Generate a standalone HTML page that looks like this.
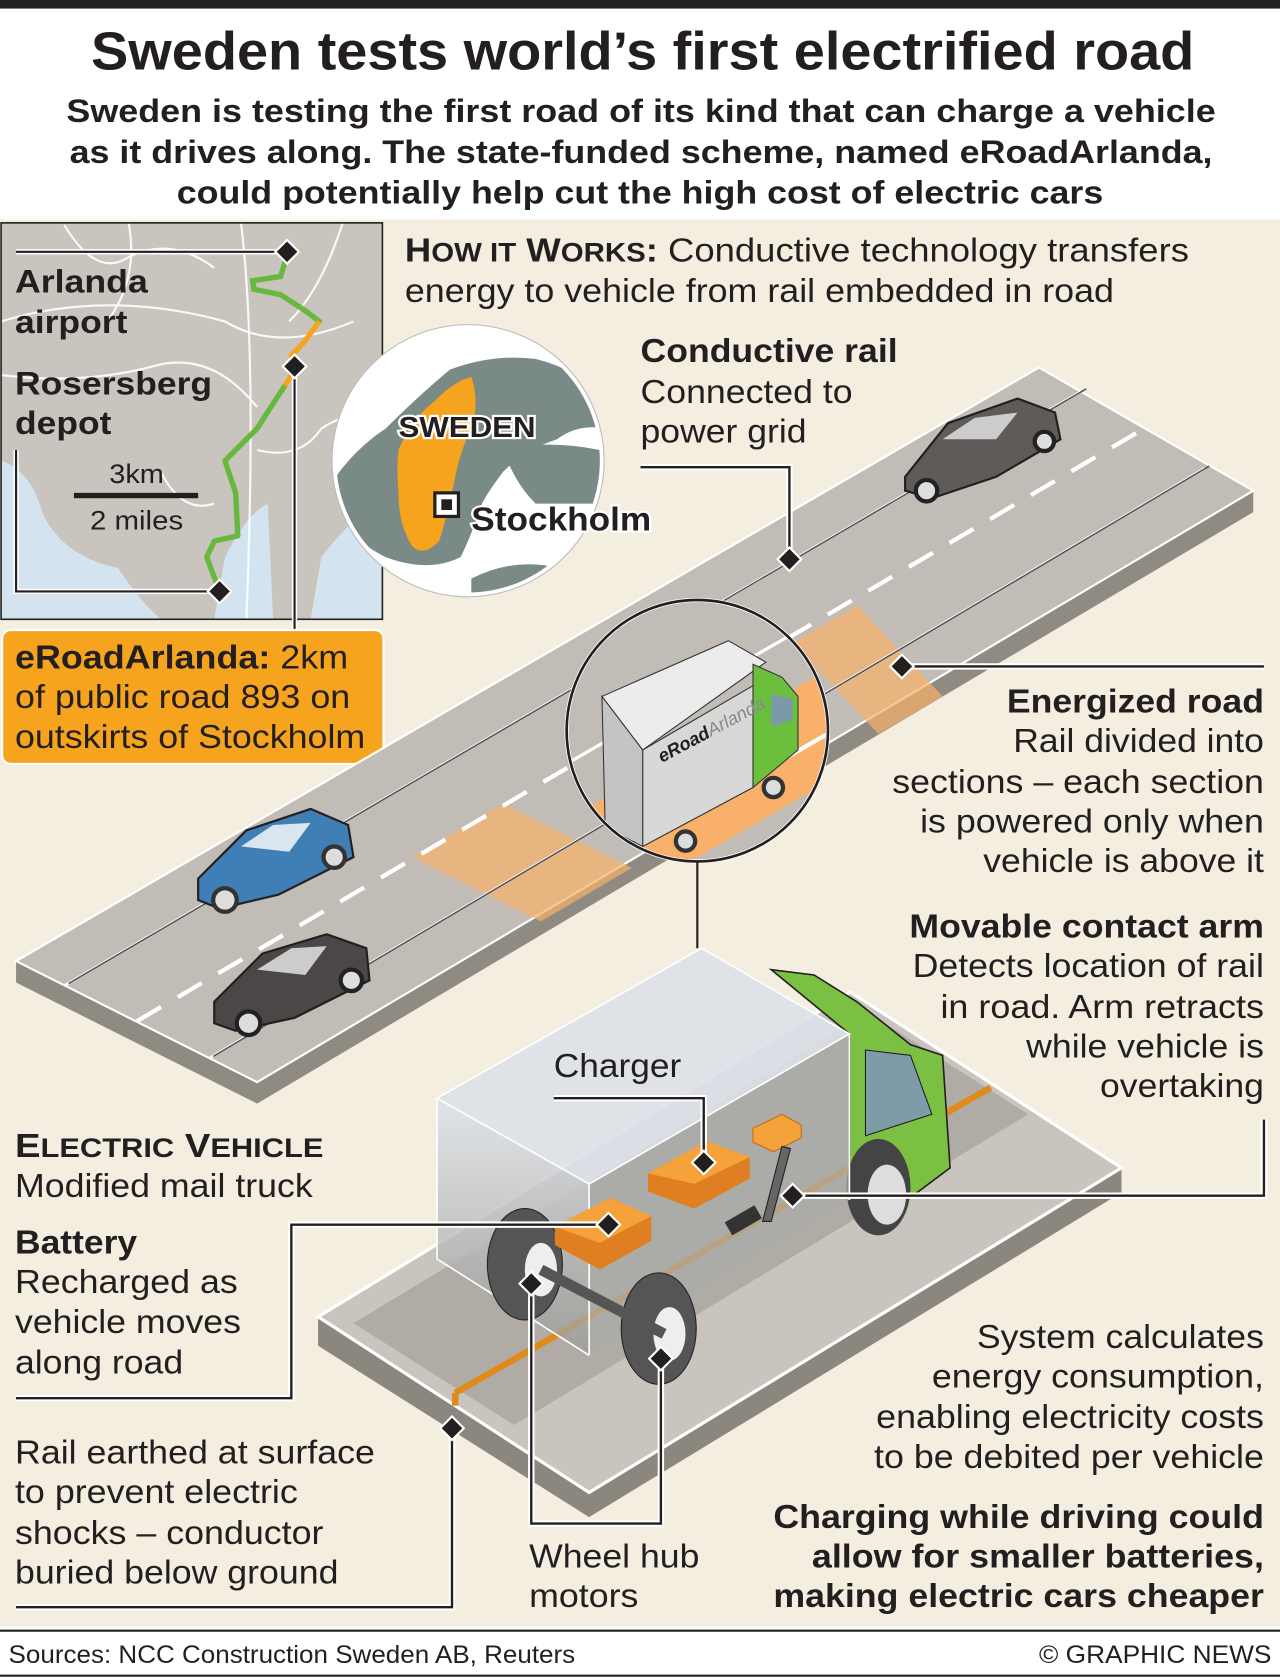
<!DOCTYPE html>
<html><head><meta charset="utf-8"><style>
html,body{margin:0;padding:0;background:#fff;}
svg{display:block;}
text{font-family:"Liberation Sans",Arial,sans-serif;fill:#231f20;}
.b{font-weight:bold;}
</style></head><body>
<svg width="1280" height="1680" viewBox="0 0 1195 1568" preserveAspectRatio="none" xmlns="http://www.w3.org/2000/svg">
<defs>
<clipPath id="lens"><circle cx="651" cy="682" r="120"/></clipPath>
<clipPath id="glob"><circle cx="437" cy="430" r="123"/></clipPath>
<clipPath id="mapc"><rect x="1" y="208" width="356" height="370"/></clipPath>
<linearGradient id="box" x1="0" y1="0" x2="0" y2="1"><stop offset="0" stop-color="#dfe3ea" stop-opacity="0.9"/><stop offset="1" stop-color="#9c9c98" stop-opacity="0.75"/></linearGradient>
</defs>
<rect width="1195" height="1568" fill="#fff"/>
<rect width="1195" height="8" fill="#231f20"/>
<rect x="0" y="205" width="1195" height="1313" fill="#f3eedf"/>
<line x1="0" y1="1522" x2="1195" y2="1522" stroke="#231f20" stroke-width="2"/>
<line x1="0" y1="1564" x2="1195" y2="1564" stroke="#231f20" stroke-width="2"/>

<g lengthAdjust="spacingAndGlyphs">
<text x="85" y="65" font-size="50" class="b" textLength="1030" lengthAdjust="spacingAndGlyphs">Sweden tests world’s first electrified road</text>
<text x="62" y="114" font-size="30" class="b" textLength="1073" lengthAdjust="spacingAndGlyphs">Sweden is testing the first road of its kind that can charge a vehicle</text>
<text x="65" y="152" font-size="30" class="b" textLength="1067" lengthAdjust="spacingAndGlyphs">as it drives along. The state-funded scheme, named eRoadArlanda,</text>
<text x="165" y="190" font-size="30" class="b" textLength="865" lengthAdjust="spacingAndGlyphs">could potentially help cut the high cost of electric cars</text>
</g>

<!-- map -->
<g clip-path="url(#mapc)">
<rect x="1" y="208" width="356" height="370" fill="#c9c4bd"/>
<path d="M1 430 Q30 440 40 480 Q60 520 110 530 Q130 560 150 578 L1 578Z" fill="#d3e3ef"/>
<path d="M200 578 L210 520 Q230 480 250 470 L255 578Z" fill="#d3e3ef"/>
<path d="M300 520 Q330 480 357 470 L357 578 L290 578Z" fill="#d3e3ef"/>
<g stroke="#fff" stroke-width="2" fill="none" opacity="0.9">
<path d="M225 208 Q240 330 230 578"/><path d="M1 300 Q100 270 210 300 Q260 330 330 300"/>
<path d="M60 210 Q90 260 120 240 Q160 220 200 250"/><path d="M1 350 Q80 360 150 340 Q200 330 240 380"/>
<path d="M240 420 Q280 430 300 400 Q330 380 357 390"/><path d="M150 440 Q170 480 200 470"/>
<path d="M320 208 Q300 270 270 300"/><path d="M120 208 Q130 260 100 300"/>
</g>
<path d="M268 238 L262 258 L236 262 L237 270 L262 275 L285 290 L298 300" stroke="#66b93e" stroke-width="5" fill="none" stroke-linecap="round"/>
<path d="M298 300 L285 318 L272 332 L275 345 L266 360" stroke="#f6a41d" stroke-width="5" fill="none"/>
<path d="M266 360 L258 372 L240 400 L210 430 L220 460 L222 500 L200 505 L193 520 L205 552" stroke="#66b93e" stroke-width="5" fill="none" stroke-linejoin="round"/>
</g>
<rect x="1" y="208" width="356" height="370" fill="none" stroke="#231f20" stroke-width="1.5"/>
<g stroke="#fff" stroke-width="5" fill="none"><path d="M15 235 H268"/><path d="M15 420 V552 H205"/><path d="M275 342 V588"/></g>
<g stroke="#231f20" stroke-width="2" fill="none"><path d="M15 235 H268"/><path d="M15 420 V552 H205"/><path d="M275 342 V588"/></g>
<text x="14" y="273" font-size="30" class="b" textLength="124" lengthAdjust="spacingAndGlyphs">Arlanda</text>
<text x="14" y="311" font-size="30" class="b" textLength="105" lengthAdjust="spacingAndGlyphs">airport</text>
<text x="14" y="368" font-size="30" class="b" textLength="184" lengthAdjust="spacingAndGlyphs">Rosersberg</text>
<text x="14" y="405" font-size="30" class="b" textLength="90" lengthAdjust="spacingAndGlyphs">depot</text>
<text x="102" y="451" font-size="25" textLength="51" lengthAdjust="spacingAndGlyphs">3km</text>
<rect x="69" y="460" width="116" height="5" fill="#231f20"/>
<text x="84" y="494" font-size="25" textLength="87" lengthAdjust="spacingAndGlyphs">2 miles</text>

<!-- globe -->
<circle cx="437" cy="430" r="127" fill="#fff" stroke="#bbb" stroke-width="1"/>
<g clip-path="url(#glob)">
<rect x="300" y="300" width="280" height="260" fill="#fff"/>
<path d="M310 450 Q330 420 360 400 Q390 370 420 345 Q460 330 500 335 Q540 345 560 370 L565 400 Q540 395 520 410 Q490 420 470 440 Q455 460 450 470 Q440 500 430 520 Q400 535 360 520 Q330 505 315 480Z" fill="#7a8a87"/>
<path d="M470 420 Q510 410 560 420 L570 470 Q530 470 500 470 Q480 450 470 420Z" fill="#7a8a87"/>
<path d="M440 540 Q480 520 520 530 L520 560 L440 560Z" fill="#7a8a87"/>
<path d="M372 420 Q385 390 405 375 Q425 355 440 352 Q448 375 440 400 Q430 420 425 445 Q418 480 410 505 Q395 520 385 510 Q372 490 372 460 Q370 440 372 420Z" fill="#f6a41d"/>
</g>
<rect x="406" y="460" width="22" height="22" fill="#fff" stroke="#231f20" stroke-width="3"/>
<rect x="412" y="466" width="10" height="10" fill="#231f20"/>
<text x="372" y="408" font-size="27" class="b" stroke="#fff" stroke-width="4" paint-order="stroke" textLength="128" lengthAdjust="spacingAndGlyphs">SWEDEN</text>
<text x="440" y="495" font-size="31" class="b" stroke="#fff" stroke-width="4" paint-order="stroke" textLength="168" lengthAdjust="spacingAndGlyphs">Stockholm</text>

<!-- orange label -->
<rect x="2" y="588" width="356" height="125" rx="8" fill="#f6a41d" stroke="#fff" stroke-width="2"/>
<text x="14" y="624" font-size="31" textLength="311" lengthAdjust="spacingAndGlyphs"><tspan class="b">eRoadArlanda:</tspan> 2km</text>
<text x="14" y="661" font-size="31" textLength="313" lengthAdjust="spacingAndGlyphs">of public road 893 on</text>
<text x="14" y="698" font-size="31" textLength="327" lengthAdjust="spacingAndGlyphs">outskirts of Stockholm</text>

<text x="378" y="244" font-size="31" textLength="732" lengthAdjust="spacingAndGlyphs"><tspan class="b">H<tspan font-size="25">OW IT</tspan> W<tspan font-size="25">ORKS</tspan>:</tspan> Conductive technology transfers</text>
<text x="378" y="282" font-size="31" textLength="662" lengthAdjust="spacingAndGlyphs">energy to vehicle from rail embedded in road</text>

<!-- upper road -->
<polygon points="15,897 240,1010 1170,458 1170,478 240,1030 15,917" fill="#8f8a82"/>
<polygon points="15,897 970,343 1170,458 240,1010" fill="#c1bcb5" stroke="#fff" stroke-width="2"/>
<polygon points="385,800 470,750 590,810 505,860" fill="#f8b06a" opacity="0.7"/>
<polygon points="740,600 800,565 880,650 820,685" fill="#f8b06a" opacity="0.7"/>
<g stroke="#fff" stroke-width="2.5">
<line x1="60" y1="920" x2="1010" y2="365"/><line x1="195" y1="988" x2="1125" y2="437"/>
</g>
<g stroke="#555" stroke-width="1.5">
<line x1="64" y1="918" x2="1014" y2="363"/><line x1="199" y1="986" x2="1129" y2="435"/>
</g>
<line x1="128" y1="953" x2="1068" y2="400" stroke="#fff" stroke-width="4" stroke-dasharray="26 18"/>
<!-- cars -->
<g>
<path d="M185 820 L230 775 L290 755 L325 770 L330 800 L260 835 L205 848 L185 840Z" fill="#3f7fb5" stroke="#231f20" stroke-width="2"/>
<path d="M225 790 L255 770 L290 768 L270 795Z" fill="#d9e6ef"/>
<circle cx="210" cy="840" r="11" fill="#ddd" stroke="#333" stroke-width="4"/><circle cx="312" cy="800" r="10" fill="#ddd" stroke="#333" stroke-width="4"/>
<path d="M200 935 L245 890 L305 872 L342 885 L345 915 L275 950 L220 962 L200 955Z" fill="#4a4746" stroke="#231f20" stroke-width="2"/>
<path d="M240 905 L272 885 L305 883 L285 910Z" fill="#ccc"/>
<circle cx="232" cy="955" r="11" fill="#ddd" stroke="#222" stroke-width="4"/><circle cx="328" cy="915" r="10" fill="#ddd" stroke="#222" stroke-width="4"/>
<path d="M845 445 L885 395 L950 372 L985 385 L990 410 L930 445 L870 465 L845 458Z" fill="#5e5b59" stroke="#231f20" stroke-width="2"/>
<path d="M880 410 L910 390 L950 385 L930 410Z" fill="#ccc"/>
<circle cx="865" cy="458" r="10" fill="#ddd" stroke="#222" stroke-width="4"/><circle cx="975" cy="412" r="9" fill="#ddd" stroke="#222" stroke-width="4"/>
</g>

<!-- lens -->
<circle cx="651" cy="682" r="124" fill="#fff"/>
<g clip-path="url(#lens)">
<rect x="520" y="555" width="270" height="260" fill="#c1bcb5"/>
<polygon points="520,770 790,615 790,720 520,875" fill="#f8b06a"/>
<line x1="520" y1="718" x2="790" y2="563" stroke="#fff" stroke-width="3"/>
<line x1="520" y1="830" x2="790" y2="675" stroke="#fff" stroke-width="4"/>
<!-- truck in lens -->
<polygon points="600,700 703,640 703,735 600,790" fill="#d8d8d8" stroke="#333"/>
<polygon points="562,650 680,598 715,618 600,700" fill="#ececec" stroke="#333"/>
<polygon points="562,650 600,700 600,790 565,772" fill="#c4c4c4" stroke="#333"/>
<polygon points="703,620 730,632 745,650 745,700 703,735 703,640" fill="#6cbf3c" stroke="#333"/>
<polygon points="720,648 740,652 740,672 720,678" fill="#7a9aa8"/>
<circle cx="640" cy="785" r="9" fill="#ddd" stroke="#333" stroke-width="4"/><circle cx="722" cy="735" r="9" fill="#ddd" stroke="#333" stroke-width="4"/>
<text x="618" y="712" font-size="17" class="b" fill="#1f9b3a" transform="rotate(-28 618 712)" font-style="italic">eRoad<tspan fill="#888" font-weight="normal">Arlanda</tspan></text>
</g>
<circle cx="651" cy="682" r="122" fill="none" stroke="#231f20" stroke-width="2.5"/>
<line x1="651" y1="804" x2="651" y2="885" stroke="#231f20" stroke-width="2"/>

<!-- lower slab -->
<polygon points="297,1229 550,1393 1047,1090 1047,1113 550,1416 297,1256" fill="#8b867e"/>
<polygon points="297,1229 794,926 1047,1090 550,1393" fill="#c9c4bd" stroke="#fff" stroke-width="3"/>
<polygon points="330,1235 810,945 960,1040 480,1330" fill="#b0aba4"/>
<line x1="425" y1="1300" x2="925" y2="1015" stroke="#e08a1a" stroke-width="6"/>
<line x1="425" y1="1300" x2="425" y2="1312" stroke="#e08a1a" stroke-width="6"/>

<!-- truck -->
<path d="M720 905 L760 910 L800 935 L850 975 L880 985 L887 1090 L820 1140 L793 1120 L793 965Z" fill="#7bc043" stroke="#231f20" stroke-width="1.5"/>
<path d="M808 980 L850 985 L870 1040 L808 1060Z" fill="#7d9ca8" stroke="#231f20"/>
<ellipse cx="820" cy="1108" rx="30" ry="45" fill="#444"/><ellipse cx="828" cy="1115" rx="18" ry="28" fill="#ddd"/>
<polygon points="408,1025 655,885 793,965 550,1105" fill="#dde1e8" opacity="0.9"/>
<polygon points="408,1025 550,1105 550,1265 408,1175" fill="url(#box)"/>
<polygon points="550,1105 793,965 793,1120 550,1265" fill="#a9aba8" opacity="0.75"/>
<g fill="none" stroke="#fff" stroke-width="1.5"><polygon points="408,1025 655,885 793,965 550,1105"/><path d="M550 1105 V1265 M408 1025 V1175 L550 1265 M793 965 V1120"/></g>
<ellipse cx="490" cy="1180" rx="35" ry="52" fill="#555" stroke="#222"/><ellipse cx="505" cy="1185" rx="15" ry="25" fill="#eee"/>
<ellipse cx="615" cy="1240" rx="35" ry="52" fill="#555" stroke="#222"/><ellipse cx="625" cy="1245" rx="15" ry="25" fill="#eee"/>
<line x1="505" y1="1185" x2="620" y2="1245" stroke="#555" stroke-width="10"/>
<polygon points="518,1145 570,1118 608,1135 608,1158 560,1185 518,1162" fill="#e07e22"/>
<polygon points="518,1145 570,1118 608,1135 560,1160" fill="#f6a23a"/>
<polygon points="605,1095 660,1065 700,1080 700,1100 648,1128 605,1112" fill="#e07e22"/>
<polygon points="605,1095 660,1065 700,1080 648,1105" fill="#f6a23a"/>
<polygon points="703,1053 730,1040 748,1050 748,1062 722,1075 703,1066" fill="#f6a23a" stroke="#c86b15"/>
<path d="M730 1070 L712 1140 L720 1140 L738 1072Z" fill="#666" stroke="#222"/>
<rect x="678" y="1132" width="32" height="14" fill="#333" transform="rotate(-30 694 1139)"/>

<!-- leaders -->
<g stroke="#fff" stroke-width="6" fill="none">
<path d="M598 436 H737 V522"/><path d="M842 622 H1180"/><path d="M740 1116 H1180 V1045"/>
<path d="M517 1025 H657 V1085"/><path d="M568 1143 H272 V1305 H15"/><path d="M422 1333 V1500 H15"/>
<path d="M496 1198 V1422 H617 V1268"/>
</g>
<g stroke="#231f20" stroke-width="2.2" fill="none">
<path d="M598 436 H737 V522"/><path d="M842 622 H1180"/><path d="M740 1116 H1180 V1045"/>
<path d="M517 1025 H657 V1085"/><path d="M568 1143 H272 V1305 H15"/><path d="M422 1333 V1500 H15"/>
<path d="M496 1198 V1422 H617 V1268"/>
</g>
<g fill="#231f20" stroke="#fff" stroke-width="2">
<path d="M268 224 l11 11 -11 11 -11 -11z"/><path d="M275 331 l11 11 -11 11 -11 -11z"/><path d="M205 541 l11 11 -11 11 -11 -11z"/>
<path d="M737 511 l11 11 -11 11 -11 -11z"/><path d="M842 611 l11 11 -11 11 -11 -11z"/><path d="M740 1105 l11 11 -11 11 -11 -11z"/>
<path d="M657 1074 l11 11 -11 11 -11 -11z"/><path d="M568 1132 l11 11 -11 11 -11 -11z"/><path d="M422 1322 l11 11 -11 11 -11 -11z"/>
<path d="M496 1187 l11 11 -11 11 -11 -11z"/><path d="M617 1257 l11 11 -11 11 -11 -11z"/>
</g>

<g font-size="31">
<text x="598" y="338" class="b" textLength="240" lengthAdjust="spacingAndGlyphs">Conductive rail</text>
<text x="598" y="376" textLength="198" lengthAdjust="spacingAndGlyphs">Connected to</text>
<text x="598" y="413" textLength="155" lengthAdjust="spacingAndGlyphs">power grid</text>

<text x="940" y="665" class="b" textLength="240" lengthAdjust="spacingAndGlyphs">Energized road</text>
<text x="946" y="702" textLength="234" lengthAdjust="spacingAndGlyphs">Rail divided into</text>
<text x="833" y="740" textLength="347" lengthAdjust="spacingAndGlyphs">sections – each section</text>
<text x="859" y="777" textLength="321" lengthAdjust="spacingAndGlyphs">is powered only when</text>
<text x="918" y="814" textLength="262" lengthAdjust="spacingAndGlyphs">vehicle is above it</text>
<text x="849" y="875" class="b" textLength="331" lengthAdjust="spacingAndGlyphs">Movable contact arm</text>
<text x="852" y="912" textLength="328" lengthAdjust="spacingAndGlyphs">Detects location of rail</text>
<text x="878" y="950" textLength="302" lengthAdjust="spacingAndGlyphs">in road. Arm retracts</text>
<text x="958" y="987" textLength="222" lengthAdjust="spacingAndGlyphs">while vehicle is</text>
<text x="1027" y="1024" textLength="153" lengthAdjust="spacingAndGlyphs">overtaking</text>
<text x="912" y="1258" textLength="268" lengthAdjust="spacingAndGlyphs">System calculates</text>
<text x="870" y="1295" textLength="310" lengthAdjust="spacingAndGlyphs">energy consumption,</text>
<text x="818" y="1333" textLength="362" lengthAdjust="spacingAndGlyphs">enabling electricity costs</text>
<text x="816" y="1370" textLength="364" lengthAdjust="spacingAndGlyphs">to be debited per vehicle</text>
<text x="722" y="1426" class="b" textLength="458" lengthAdjust="spacingAndGlyphs">Charging while driving could</text>
<text x="758" y="1463" class="b" textLength="422" lengthAdjust="spacingAndGlyphs">allow for smaller batteries,</text>
<text x="722" y="1500" class="b" textLength="458" lengthAdjust="spacingAndGlyphs">making electric cars cheaper</text>

<text x="517" y="1005" textLength="119" lengthAdjust="spacingAndGlyphs">Charger</text>
<text x="14" y="1080" class="b" textLength="288" lengthAdjust="spacingAndGlyphs">E<tspan font-size="25">LECTRIC</tspan> V<tspan font-size="25">EHICLE</tspan></text>
<text x="14" y="1117" textLength="278" lengthAdjust="spacingAndGlyphs">Modified mail truck</text>
<text x="14" y="1170" class="b" textLength="114" lengthAdjust="spacingAndGlyphs">Battery</text>
<text x="14" y="1207" textLength="208" lengthAdjust="spacingAndGlyphs">Recharged as</text>
<text x="14" y="1244" textLength="211" lengthAdjust="spacingAndGlyphs">vehicle moves</text>
<text x="14" y="1282" textLength="157" lengthAdjust="spacingAndGlyphs">along road</text>
<text x="14" y="1366" textLength="336" lengthAdjust="spacingAndGlyphs">Rail earthed at surface</text>
<text x="14" y="1403" textLength="264" lengthAdjust="spacingAndGlyphs">to prevent electric</text>
<text x="14" y="1441" textLength="288" lengthAdjust="spacingAndGlyphs">shocks – conductor</text>
<text x="14" y="1478" textLength="302" lengthAdjust="spacingAndGlyphs">buried below ground</text>
<text x="494" y="1463" textLength="159" lengthAdjust="spacingAndGlyphs">Wheel hub</text>
<text x="494" y="1500" textLength="102" lengthAdjust="spacingAndGlyphs">motors</text>
</g>
<text x="8" y="1552" font-size="23" textLength="529" lengthAdjust="spacingAndGlyphs">Sources: NCC Construction Sweden AB, Reuters</text>
<text x="970" y="1552" font-size="23" textLength="217" lengthAdjust="spacingAndGlyphs">© GRAPHIC NEWS</text>
</svg>
</body></html>
